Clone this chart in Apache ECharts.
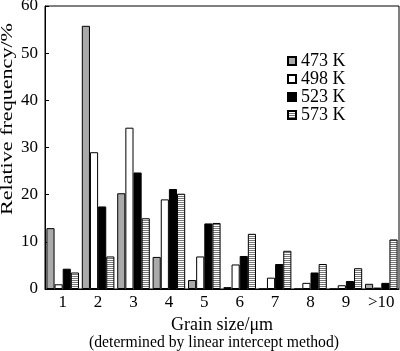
<!DOCTYPE html>
<html>
<head>
<meta charset="utf-8">
<script src="https://cdn.jsdelivr.net/npm/echarts@6/dist/echarts.min.js"></script>
<style>
  html, body { margin: 0; padding: 0; background: #fff; }
  #chart { width: 400px; height: 351px; }
</style>
</head>
<body>
<div id="chart"></div>
<script>
var categories = ['1', '2', '3', '4', '5', '6', '7', '8', '9', '>10'];
var seriesNames = ['473 K', '498 K', '523 K', '573 K'];
var k473 = [12.9, 55.8, 20.3, 6.8, 1.9, 0.4, 0, 0, 0, 1.1];
var k498 = [1.0, 29.0, 34.2, 19.0, 6.9, 5.2, 2.4, 1.3, 0.8, 0.3];
var k523 = [4.3, 17.5, 24.7, 21.2, 13.9, 7.0, 5.3, 3.5, 1.7, 1.3];
var k573 = [3.5, 6.9, 15.0, 20.2, 14.0, 11.7, 8.1, 5.3, 4.4, 10.5];
var yTicks = [0, 10, 20, 30, 40, 50, 60];

var FONT = '"Liberation Serif", "DejaVu Serif", serif';

// horizontal stripes for the 573 K bars
function stripes() {
	var c = document.createElement('canvas');
	c.width = 4; c.height = 2;
	var ctx = c.getContext('2d');
	ctx.fillStyle = '#fff';
	ctx.fillRect(0, 0, 4, 2);
	ctx.fillStyle = '#777';
	ctx.fillRect(0, 0, 4, 1);
	return c;
}

var fills = ['#aaaaaa', '#ffffff', '#000000', {image: stripes(), repeat: 'repeat'}];
var datas = [k473, k498, k523, k573];

var series = [];
for (var i = 0; i < 4; i++) {
	series.push({
		name: seriesNames[i],
		type: 'bar',
		data: datas[i],
		barGap: '0%',
		barCategoryGap: '8%',
		itemStyle: {color: fills[i], borderColor: '#000', borderWidth: 1},
		emphasis: {disabled: true}
	});
}

var chart = echarts.init(document.getElementById('chart'));
chart.setOption({
	animation: false,
	backgroundColor: '#fff',
	grid: {
		left: 45, right: 1, top: 6, bottom: 62,
		outerBoundsMode: 'none', containLabel: false,
		show: true, borderColor: '#000', borderWidth: 1, backgroundColor: 'transparent'
	},
	legend: {
		orient: 'vertical',
		left: 282,
		top: 47,
		itemWidth: 8,
		itemHeight: 8,
		itemGap: 0,
		icon: 'rect',
		data: seriesNames,
		textStyle: {fontFamily: FONT, fontSize: 18, color: '#000', lineHeight: 18}
	},
	xAxis: {
		type: 'category',
		data: categories,
		name: 'Grain size/\u03bcm',
		nameLocation: 'middle',
		nameGap: 25,
		nameTextStyle: {fontFamily: FONT, fontSize: 18, color: '#000'},
		axisLine: {lineStyle: {color: '#000'}},
		axisTick: {show: false},
		axisLabel: {fontFamily: FONT, fontSize: 17, color: '#000', margin: 5, interval: 0}
	},
	yAxis: {
		type: 'value',
		min: 0,
		max: 60,
		interval: 10,
		axisLine: {show: true, lineStyle: {color: '#000'}},
		axisTick: {show: true, inside: true, length: 4, lineStyle: {color: '#000'}},
		splitLine: {show: false},
		axisLabel: {
			fontFamily: FONT, fontSize: 17, color: '#000', margin: 7,
			formatter: function (v) { return yTicks.indexOf(v) >= 0 ? String(v) : ''; }
		}
	},
	graphic: [{
		type: 'text',
		x: 8,
		y: 119,
		rotation: Math.PI / 2,
		scaleX: 1.3,
		style: {text: 'Relative frequency/%', font: '17px ' + FONT, fill: '#000', align: 'center', verticalAlign: 'middle'}
	}, {
		type: 'text',
		x: 214,
		y: 343,
		style: {text: '(determined by linear intercept method)', font: '15.7px ' + FONT, fill: '#000', align: 'center', verticalAlign: 'middle'}
	}],
	series: series
});
</script>
</body>
</html>
